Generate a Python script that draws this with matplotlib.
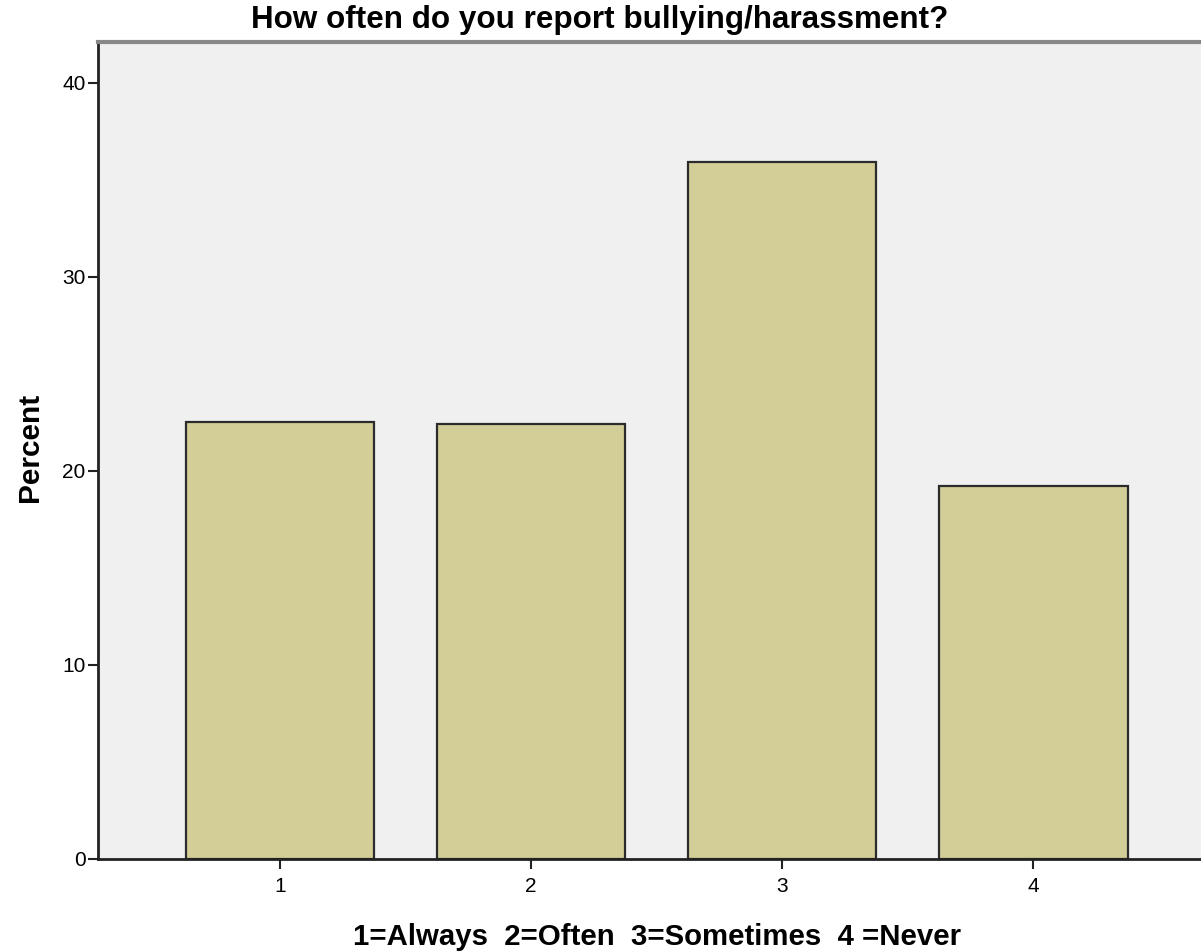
import numpy as np
import matplotlib.pyplot as plt

# data
categories = [1, 2, 3, 4]
percent = [22.5, 22.4, 35.9, 19.2]

plt.rcParams['font.family'] = ['Liberation Sans', 'DejaVu Sans']

fig = plt.figure(figsize=(12.01, 9.52), dpi=100)
ax = fig.add_axes([0.0816, 0.0977, 0.9184, 0.8582])
ax.set_facecolor('#F0F0F0')

ax.bar(categories, percent, width=0.75, color='#D3CE98',
       edgecolor='#2B2B2B', linewidth=1.6, zorder=2)

ax.set_xlim(0.2755, 4.667)
ax.set_ylim(0, 42.1)
ax.set_xticks(categories)
ax.set_yticks([0, 10, 20, 30, 40])
ax.tick_params(axis='both', labelsize=15, length=7, width=1.5,
               color='#222222', direction='out')
ax.tick_params(axis='x', pad=6)
ax.tick_params(axis='y', pad=2)

for s in ['left', 'bottom']:
    ax.spines[s].set_linewidth(2)
    ax.spines[s].set_color('#222222')
ax.spines['top'].set_linewidth(3)
ax.spines['top'].set_color('#888888')
ax.spines['right'].set_visible(False)

fig.text(30 / 1201, 1 - 447 / 952, 'Percent', fontsize=21.5,
         fontweight='bold', rotation=90, ha='center', va='center')
fig.text(657 / 1201, 1 - 937 / 952, '1=Always  2=Often  3=Sometimes  4 =Never',
         fontsize=21.2, fontweight='bold', ha='center', va='center')
fig.text(600 / 1201, 1 - 20 / 952, 'How often do you report bullying/harassment?',
         fontsize=22.6, fontweight='bold', ha='center', va='center')

fig.savefig('out.png', dpi=100)
